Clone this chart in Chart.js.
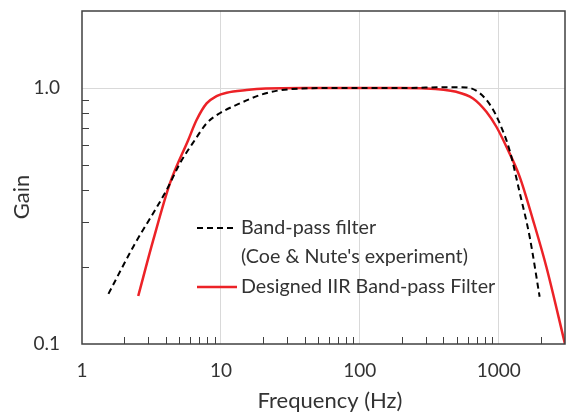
<!DOCTYPE html>
<html>
<head>
<meta charset="utf-8">
<script src="https://cdn.jsdelivr.net/npm/chart.js@4"></script>
<style>
  body { margin: 0; background: #fff; }
  #wrap { width: 566px; height: 412px; position: relative; }
</style>
</head>
<body>
<div id="wrap"><canvas id="gainChart"></canvas></div>
<script>
// Band-pass filter (Coe & Nute's experiment)
const bpFreq = [1.55, 2.34, 4.07, 5.07, 6.5, 7.89, 9.8, 13.7, 19.1, 25, 37, 60, 100, 200, 444, 585, 730, 885, 1017, 1199, 1416, 1671, 1970];
const bpGain = [0.157, 0.24, 0.40, 0.508, 0.627, 0.728, 0.797, 0.871, 0.939, 0.975, 0.995, 1.0, 1.0, 1.0, 1.008, 1.006, 0.955, 0.845, 0.728, 0.57, 0.39, 0.262, 0.153];

// Designed IIR band-pass filter
const iirFreq = [2.54, 3.26, 4.3, 5.82, 6.68, 7.89, 9.3, 11, 15.3, 21, 40, 100, 200, 300, 495, 653, 815, 962, 1136, 1416, 1766, 2204, 3000];
const iirGain = [0.154, 0.255, 0.425, 0.627, 0.75, 0.871, 0.93, 0.959, 0.982, 0.995, 1.0, 1.0, 1.0, 0.997, 0.967, 0.911, 0.808, 0.706, 0.59, 0.45, 0.305, 0.2, 0.1];

const xTicks = [1, 10, 100, 1000];
const yTicks = [0.1, 1];

const textColor = '#333333';
const axisColor = '#404040';
const fontFamily = 'Lato, "Open Sans", sans-serif';

const toPoints = (xs, ys) => xs.map((x, i) => ({ x: x, y: ys[i] }));

// frame, inner minor ticks, axis titles and the in-plot legend
const decorations = {
    id: 'decorations',
    afterDraw(chart) {
        const ctx = chart.ctx;
        const a = chart.chartArea;
        const xs = chart.scales.x;
        const ys = chart.scales.y;
        ctx.save();

        // minor ticks inside the plot
        ctx.strokeStyle = axisColor;
        ctx.lineWidth = 1;
        ctx.beginPath();
        [1, 10, 100, 1000].forEach(d => {
            for (let m = 2; m <= 9; m++) {
                const v = d * m;
                if (v >= 3000) continue;
                const px = Math.round(xs.getPixelForValue(v)) + 0.5;
                ctx.moveTo(px, a.bottom);
                ctx.lineTo(px, a.bottom - 7);
            }
        });
        for (let m = 2; m <= 9; m++) {
            const py = Math.round(ys.getPixelForValue(m / 10)) + 0.5;
            ctx.moveTo(a.left, py);
            ctx.lineTo(a.left + 7, py);
        }
        ctx.stroke();

        // frame
        ctx.lineWidth = 1.5;
        ctx.strokeRect(a.left, a.top, a.right - a.left, a.bottom - a.top);

        // axis titles
        ctx.fillStyle = textColor;
        ctx.font = '22px ' + fontFamily;
        ctx.textAlign = 'center';
        ctx.textBaseline = 'middle';
        ctx.fillText('Frequency (Hz)', 330, 401);
        ctx.save();
        ctx.translate(22, 197);
        ctx.rotate(-Math.PI / 2);
        ctx.fillText('Gain', 0, 0);
        ctx.restore();

        // legend
        const ds = chart.data.datasets;
        const lx = 197, lw = 40, tx = 241;
        const rows = [
            { ds: ds[0], y: 228, lines: ['Band-pass filter', "(Coe & Nute's experiment)"] },
            { ds: ds[1], y: 287, lines: ['Designed IIR Band-pass Filter'] }
        ];
        ctx.font = '19.7px ' + fontFamily;
        ctx.textAlign = 'left';
        rows.forEach(r => {
            ctx.beginPath();
            ctx.strokeStyle = r.ds.borderColor;
            ctx.lineWidth = r.ds.borderWidth;
            ctx.setLineDash(r.ds.borderDash || []);
            ctx.moveTo(lx, r.y);
            ctx.lineTo(lx + lw, r.y);
            ctx.stroke();
            ctx.setLineDash([]);
            r.lines.forEach((t, i) => ctx.fillText(t, tx, r.y + i * 29));
        });
        ctx.restore();
    }
};

new Chart(document.getElementById('gainChart'), {
    type: 'line',
    data: {
        datasets: [{
            label: "Band-pass filter (Coe & Nute's experiment)",
            data: toPoints(bpFreq, bpGain),
            borderColor: '#000000',
            borderWidth: 2,
            borderDash: [6, 4],
            pointRadius: 0,
            cubicInterpolationMode: 'monotone',
            fill: false
        }, {
            label: 'Designed IIR Band-pass Filter',
            data: toPoints(iirFreq, iirGain),
            borderColor: '#ec2227',
            borderWidth: 2.5,
            pointRadius: 0,
            cubicInterpolationMode: 'monotone',
            fill: false
        }]
    },
    options: {
        responsive: true,
        maintainAspectRatio: false,
        animation: false,
        layout: { padding: { top: 11, right: 1, left: 0, bottom: 0 } },
        plugins: {
            legend: { display: false },
            tooltip: { enabled: false }
        },
        scales: {
            x: {
                type: 'logarithmic',
                min: 1,
                max: 3000,
                afterBuildTicks: s => { s.ticks = xTicks.map(v => ({ value: v })); },
                afterFit: s => { s.height = 68; s.paddingLeft = 0; s.paddingRight = 0; },
                ticks: {
                    callback: v => String(v),
                    color: textColor,
                    font: { family: fontFamily, size: 19 },
                    padding: 15,
                    maxRotation: 0,
                    autoSkip: false
                },
                grid: {
                    color: c => (c.tick && c.tick.value === 1) ? 'rgba(0,0,0,0)' : '#d9d9d9',
                    drawTicks: false
                },
                border: { display: false }
            },
            y: {
                type: 'logarithmic',
                min: 0.1,
                max: 2,
                afterBuildTicks: s => { s.ticks = yTicks.map(v => ({ value: v })); },
                afterFit: s => { s.width = 82; s.paddingTop = 0; s.paddingBottom = 0; },
                ticks: {
                    callback: v => v.toFixed(1),
                    color: textColor,
                    font: { family: fontFamily, size: 19 },
                    padding: 22,
                    autoSkip: false
                },
                grid: {
                    color: c => (c.tick && c.tick.value === 0.1) ? 'rgba(0,0,0,0)' : '#d9d9d9',
                    drawTicks: false
                },
                border: { display: false }
            }
        }
    },
    plugins: [decorations]
});
</script>
</body>
</html>
